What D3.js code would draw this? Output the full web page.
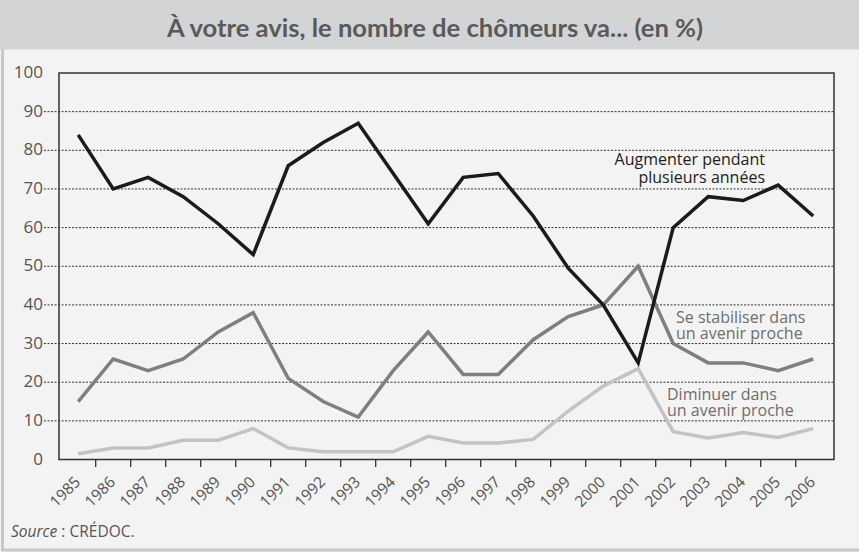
<!DOCTYPE html>
<html>
<head>
<meta charset="utf-8">
<script src="https://cdn.jsdelivr.net/npm/d3@7"></script>
<style>
  html, body { margin: 0; padding: 0; background: #f3f3f3; }
  svg { display: block; }
</style>
</head>
<body>
<div id="chart"></div>
<script>
const years = ["1985","1986","1987","1988","1989","1990","1991","1992","1993","1994","1995",
    "1996","1997","1998","1999","2000","2001","2002","2003","2004","2005","2006"];

// Augmenter pendant plusieurs années
const augmenter = [84, 70, 73, 68, 61, 53, 76, 82, 87, 74, 61, 73, 74, 63, 49.5, 40, 25, 60, 68, 67, 71, 63];
// Se stabiliser dans un avenir proche
const stabiliser = [15, 26, 23, 26, 33, 38, 21, 15, 11, 23, 33, 22, 22, 31, 37, 40, 50, 30, 25, 25, 23, 26];
// Diminuer dans un avenir proche
const diminuer = [1.5, 3, 3, 5, 5, 8, 3, 2, 2, 2, 6, 4.3, 4.3, 5.2, 12.5, 19, 23.5, 7.2, 5.6, 7, 5.7, 8];

const yTicks = [0, 10, 20, 30, 40, 50, 60, 70, 80, 90, 100];

const width = 859,
    height = 552;

const svg = d3.select("#chart")
    .append("svg")
    .attr("width", width)
    .attr("height", height);

// fond + cadre
svg.append("rect")
    .attr("width", width)
    .attr("height", height)
    .attr("fill", "#f3f3f3");

svg.append("line")
    .attr("x1", 2.5).attr("x2", 2.5)
    .attr("y1", 49).attr("y2", 550)
    .attr("stroke", "#c9c9c9")
    .attr("stroke-width", 3);

svg.append("line")
    .attr("x1", 1).attr("x2", width)
    .attr("y1", 550).attr("y2", 550)
    .attr("stroke", "#c9c9c9")
    .attr("stroke-width", 3);

svg.append("rect")
    .attr("width", width)
    .attr("height", 49.5)
    .attr("fill", "#d3d4d6");

svg.append("text")
    .attr("x", 435)
    .attr("y", 37)
    .attr("text-anchor", "middle")
    .attr("font-family", "Lato, sans-serif")
    .attr("font-weight", "bold")
    .attr("font-size", 25.6)
    .attr("fill", "#5a5a5a")
    .text("À votre avis, le nombre de chômeurs va... (en %)");

const plotLeft = 59, plotRight = 834, plotTop = 73, plotBottom = 459.5;

const x = d3.scaleBand()
    .domain(years)
    .range([60.7, 830.7]);

const y = d3.scaleLinear()
    .domain([0, 100])
    .range([plotBottom, plotTop]);

// grille pointillée
svg.append("g")
    .selectAll("line")
    .data(yTicks.filter(d => d > 0 && d < 100))
    .enter()
    .append("line")
    .attr("x1", 44)
    .attr("x2", plotRight)
    .attr("y1", d => y(d))
    .attr("y2", d => y(d))
    .attr("stroke", "#333")
    .attr("stroke-width", 1)
    .attr("stroke-dasharray", "2,1.5");

// étiquettes axe y
svg.append("g")
    .selectAll("text")
    .data(yTicks)
    .enter()
    .append("text")
    .attr("x", 43)
    .attr("y", d => y(d))
    .attr("dy", "0.3em")
    .attr("text-anchor", "end")
    .attr("font-family", "'Open Sans', sans-serif")
    .attr("font-size", 17)
    .attr("fill", "#555")
    .text(d => d);

// ticks axe x (entre les années)
svg.append("g")
    .selectAll("line")
    .data(years.slice(1))
    .enter()
    .append("line")
    .attr("x1", d => x(d))
    .attr("x2", d => x(d))
    .attr("y1", plotBottom)
    .attr("y2", plotBottom + 7.5)
    .attr("stroke", "#333")
    .attr("stroke-width", 1.3);

svg.append("g")
    .selectAll("text")
    .data(years)
    .enter()
    .append("text")
    .attr("transform", d => `translate(${x(d) + x.bandwidth() / 2 + 3},${483}) rotate(-45)`)
    .attr("text-anchor", "end")
    .attr("font-family", "'Open Sans', sans-serif")
    .attr("font-size", 15.5)
    .attr("fill", "#555")
    .text(d => d);

// cadre du graphique
svg.append("rect")
    .attr("x", plotLeft)
    .attr("y", plotTop)
    .attr("width", plotRight - plotLeft)
    .attr("height", plotBottom - plotTop)
    .attr("fill", "none")
    .attr("stroke", "#333")
    .attr("stroke-width", 1.5);

const line = d3.line()
    .x((d, i) => x(years[i]) + x.bandwidth() / 2)
    .y(d => y(d));

const series = [
    { values: diminuer, color: "#c2c3c5" },
    { values: stabiliser, color: "#7f7f7f" },
    { values: augmenter, color: "#1c1a1a" }
];

svg.append("g")
    .selectAll("path")
    .data(series)
    .enter()
    .append("path")
    .attr("d", d => line(d.values))
    .attr("fill", "none")
    .attr("stroke", d => d.color)
    .attr("stroke-width", 3.5)
    .attr("stroke-linejoin", "miter");

const labels = [
    { lines: ["Augmenter pendant", "plusieurs années"], x: 765, y: 165, gap: 18, anchor: "end", color: "#222" },
    { lines: ["Se stabiliser dans", "un avenir proche"], x: 676, y: 323, gap: 16, anchor: "start", color: "#6e6e6e" },
    { lines: ["Diminuer dans", "un avenir proche"], x: 667, y: 400, gap: 16, anchor: "start", color: "#6e6e6e" }
];

labels.forEach(l => {
    const t = svg.append("text")
        .attr("font-family", "'Open Sans', sans-serif")
        .attr("font-size", 16)
        .attr("fill", l.color)
        .attr("text-anchor", l.anchor);
    l.lines.forEach((s, i) => {
        t.append("tspan")
            .attr("x", l.x)
            .attr("y", l.y + i * l.gap)
            .text(s);
    });
});

const src = svg.append("text")
    .attr("x", 11)
    .attr("y", 537)
    .attr("font-family", "'Open Sans', sans-serif")
    .attr("font-size", 15.5)
    .attr("fill", "#555");
src.append("tspan").attr("font-style", "italic").text("Source");
src.append("tspan").text(" : CRÉDOC.");
</script>
</body>
</html>
